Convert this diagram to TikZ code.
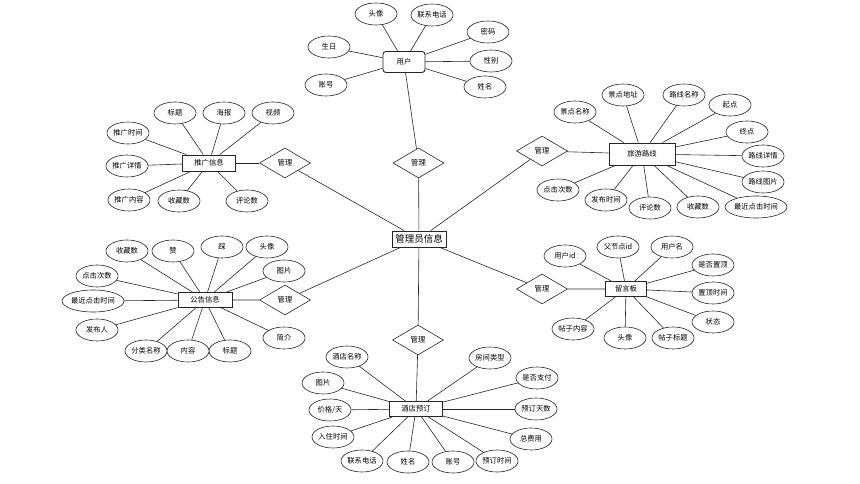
\documentclass[tikz,border=0pt]{standalone}
\usepackage{fontspec}
\usepackage{tikz}
\usetikzlibrary{shapes.geometric}
\newfontfamily\cjk{Noto Sans CJK SC}

\begin{document}
\begin{tikzpicture}[x=1pt,y=-1pt,
		attr/.style={ellipse,draw=black!85,fill=white,line width=0.6pt,minimum width=42pt,minimum height=22pt,inner xsep=0pt,font=\cjk\fontsize{7.3}{8}\selectfont},
		ent/.style={rectangle,draw=black!85,fill=white,line width=0.9pt,inner sep=2pt,minimum height=15pt,font=\cjk\fontsize{7.3}{8}\selectfont},
		rel/.style={diamond,draw=black!85,fill=white,line width=0.6pt,minimum width=51pt,minimum height=30pt,inner sep=0pt,font=\cjk\fontsize{7.3}{8}\selectfont},
		link/.style={draw=black!85,line width=0.6pt}]
		\useasboundingbox (0,0) rectangle (860,484);
		
		% entities
		\node[ent,font=\cjk\fontsize{9.5}{10}\selectfont,minimum width=54pt,minimum height=16pt,inner sep=1pt] (admin) at (419,239) {管理员信息};
		\node[ent,rounded corners=3pt,minimum width=42pt,minimum height=21pt] (user) at (404,62) {用户};
		\node[ent,minimum width=66pt,minimum height=22pt] (route) at (642,154) {旅游路线};
		\node[ent,minimum width=53pt,minimum height=16pt] (promo) at (209,163) {推广信息};
		\node[ent,minimum width=54pt] (notice) at (205,300) {公告信息};
		\node[ent,minimum width=41pt] (msg) at (626,289) {留言板};
		\node[ent,minimum width=53pt] (hotel) at (416,409) {酒店预订};
		
		% relations
		\node[rel] (rUser) at (418.5,163) {管理};
		\node[rel] (rRoute) at (542,151) {管理};
		\node[rel] (rPromo) at (285,163) {管理};
		\node[rel] (rNotice) at (285,300) {管理};
		\node[rel] (rMsg) at (542,289) {管理};
		\node[rel] (rHotel) at (418,340) {管理};
		
		\draw[link] (user) -- (rUser) -- (admin);
		\draw[link] (route) -- (rRoute) -- (admin);
		\draw[link,line width=0.9pt] (promo) -- (rPromo);
		\draw[link] (rPromo) -- (admin);
		\draw[link] (notice) -- (rNotice) -- (admin);
		\draw[link] (msg) -- (rMsg) -- (admin);
		\draw[link] (hotel) -- (rHotel) -- (admin);
		
		% user
		\node[attr] (uAvatar) at (376,14) {头像};
		\node[attr] (uPhone) at (432,15) {联系电话};
		\node[attr] (uPwd) at (488,32) {密码};
		\node[attr] (uSex) at (491,61) {性别};
		\node[attr] (uName) at (485,87) {姓名};
		\node[attr] (uBirth) at (329,47) {生日};
		\node[attr] (uAcc) at (326,85) {账号};
		\foreach \a in {uAvatar,uPhone,uPwd,uSex,uName,uBirth,uAcc}
			\draw[link] (user) -- (\a);
		
		% route
		\node[attr] (rtSpot) at (575,112) {景点名称};
		\node[attr] (rtAddr) at (623,95) {景点地址};
		\node[attr] (rtName) at (684,95) {路线名称};
		\node[attr] (rtStart) at (730,105) {起点};
		\node[attr] (rtEnd) at (747,132) {终点};
		\node[attr] (rtInfo) at (763,156) {路线详情};
		\node[attr] (rtPic) at (763,182) {路线图片};
		\node[attr] (rtLast) at (756,207) {最近点击时间};
		\node[attr] (rtFav) at (698,207) {收藏数};
		\node[attr] (rtCom) at (650,208) {评论数};
		\node[attr] (rtTime) at (606,200) {发布时间};
		\node[attr] (rtClick) at (558,190) {点击次数};
		\foreach \a in {rtSpot,rtAddr,rtName,rtStart,rtEnd,rtInfo,rtPic,rtLast,rtFav,rtCom,rtTime,rtClick}
			\draw[link] (route) -- (\a);
		
		% promo
		\node[attr] (pTitle) at (175,113) {标题};
		\node[attr] (pPoster) at (224,113) {海报};
		\node[attr] (pVideo) at (273,113) {视频};
		\node[attr] (pTime) at (128,133) {推广时间};
		\node[attr] (pInfo) at (127,166) {推广详情};
		\node[attr] (pText) at (129,200) {推广内容};
		\node[attr] (pFav) at (179,201) {收藏数};
		\node[attr] (pCom) at (247,201) {评论数};
		\foreach \a in {pTitle,pPoster,pVideo,pTime,pInfo,pText,pFav,pCom}
			\draw[link] (promo) -- (\a);
		
		% notice
		\node[attr] (nFav) at (127,251) {收藏数};
		\node[attr] (nUp) at (173,251) {赞};
		\node[attr] (nDown) at (222,247) {踩};
		\node[attr] (nAvatar) at (267,247) {头像};
		\node[attr] (nPic) at (284,271) {图片};
		\node[attr] (nBrief) at (284,338) {简介};
		\node[attr] (nTitle) at (230,351) {标题};
		\node[attr] (nText) at (188,351) {内容};
		\node[attr] (nCat) at (146,351) {分类名称};
		\node[attr] (nAuthor) at (97,330) {发布人};
		\node[attr] (nLast) at (93,301) {最近点击时间};
		\node[attr] (nClick) at (97,276) {点击次数};
		\foreach \a in {nFav,nUp,nDown,nAvatar,nPic,nBrief,nTitle,nText,nCat,nAuthor,nLast,nClick}
			\draw[link] (notice) -- (\a);
		
		% message board
		\node[attr] (mUid) at (565,256) {用户id};
		\node[attr] (mPid) at (618,247) {父节点id};
		\node[attr] (mUname) at (672,247) {用户名};
		\node[attr] (mTop) at (713,265) {是否置顶};
		\node[attr] (mTopTime) at (713,293) {置顶时间};
		\node[attr] (mState) at (713,322) {状态};
		\node[attr] (mTitle) at (673,338) {帖子标题};
		\node[attr] (mAvatar) at (625,338) {头像};
		\node[attr] (mText) at (573,329) {帖子内容};
		\foreach \a in {mUid,mPid,mUname,mTop,mTopTime,mState,mTitle,mAvatar,mText}
			\draw[link] (msg) -- (\a);
		
		% hotel
		\node[attr] (hName) at (347,357) {酒店名称};
		\node[attr] (hPic) at (323,383) {图片};
		\node[attr] (hPrice) at (330,410) {价格/天};
		\node[attr] (hIn) at (333,437) {入住时间};
		\node[attr] (hPhone) at (362,461) {联系电话};
		\node[attr] (hGuest) at (408,462) {姓名};
		\node[attr] (hAcc) at (453,462) {账号};
		\node[attr] (hTime) at (497,461) {预订时间};
		\node[attr] (hCost) at (531,439) {总费用};
		\node[attr] (hDays) at (536,409) {预订天数};
		\node[attr] (hPaid) at (537,378) {是否支付};
		\node[attr] (hRoom) at (490,358) {房间类型};
		\foreach \a in {hName,hPic,hPrice,hIn,hPhone,hGuest,hAcc,hTime,hCost,hDays,hPaid,hRoom}
			\draw[link] (hotel) -- (\a);
	\end{tikzpicture}
\end{document}
